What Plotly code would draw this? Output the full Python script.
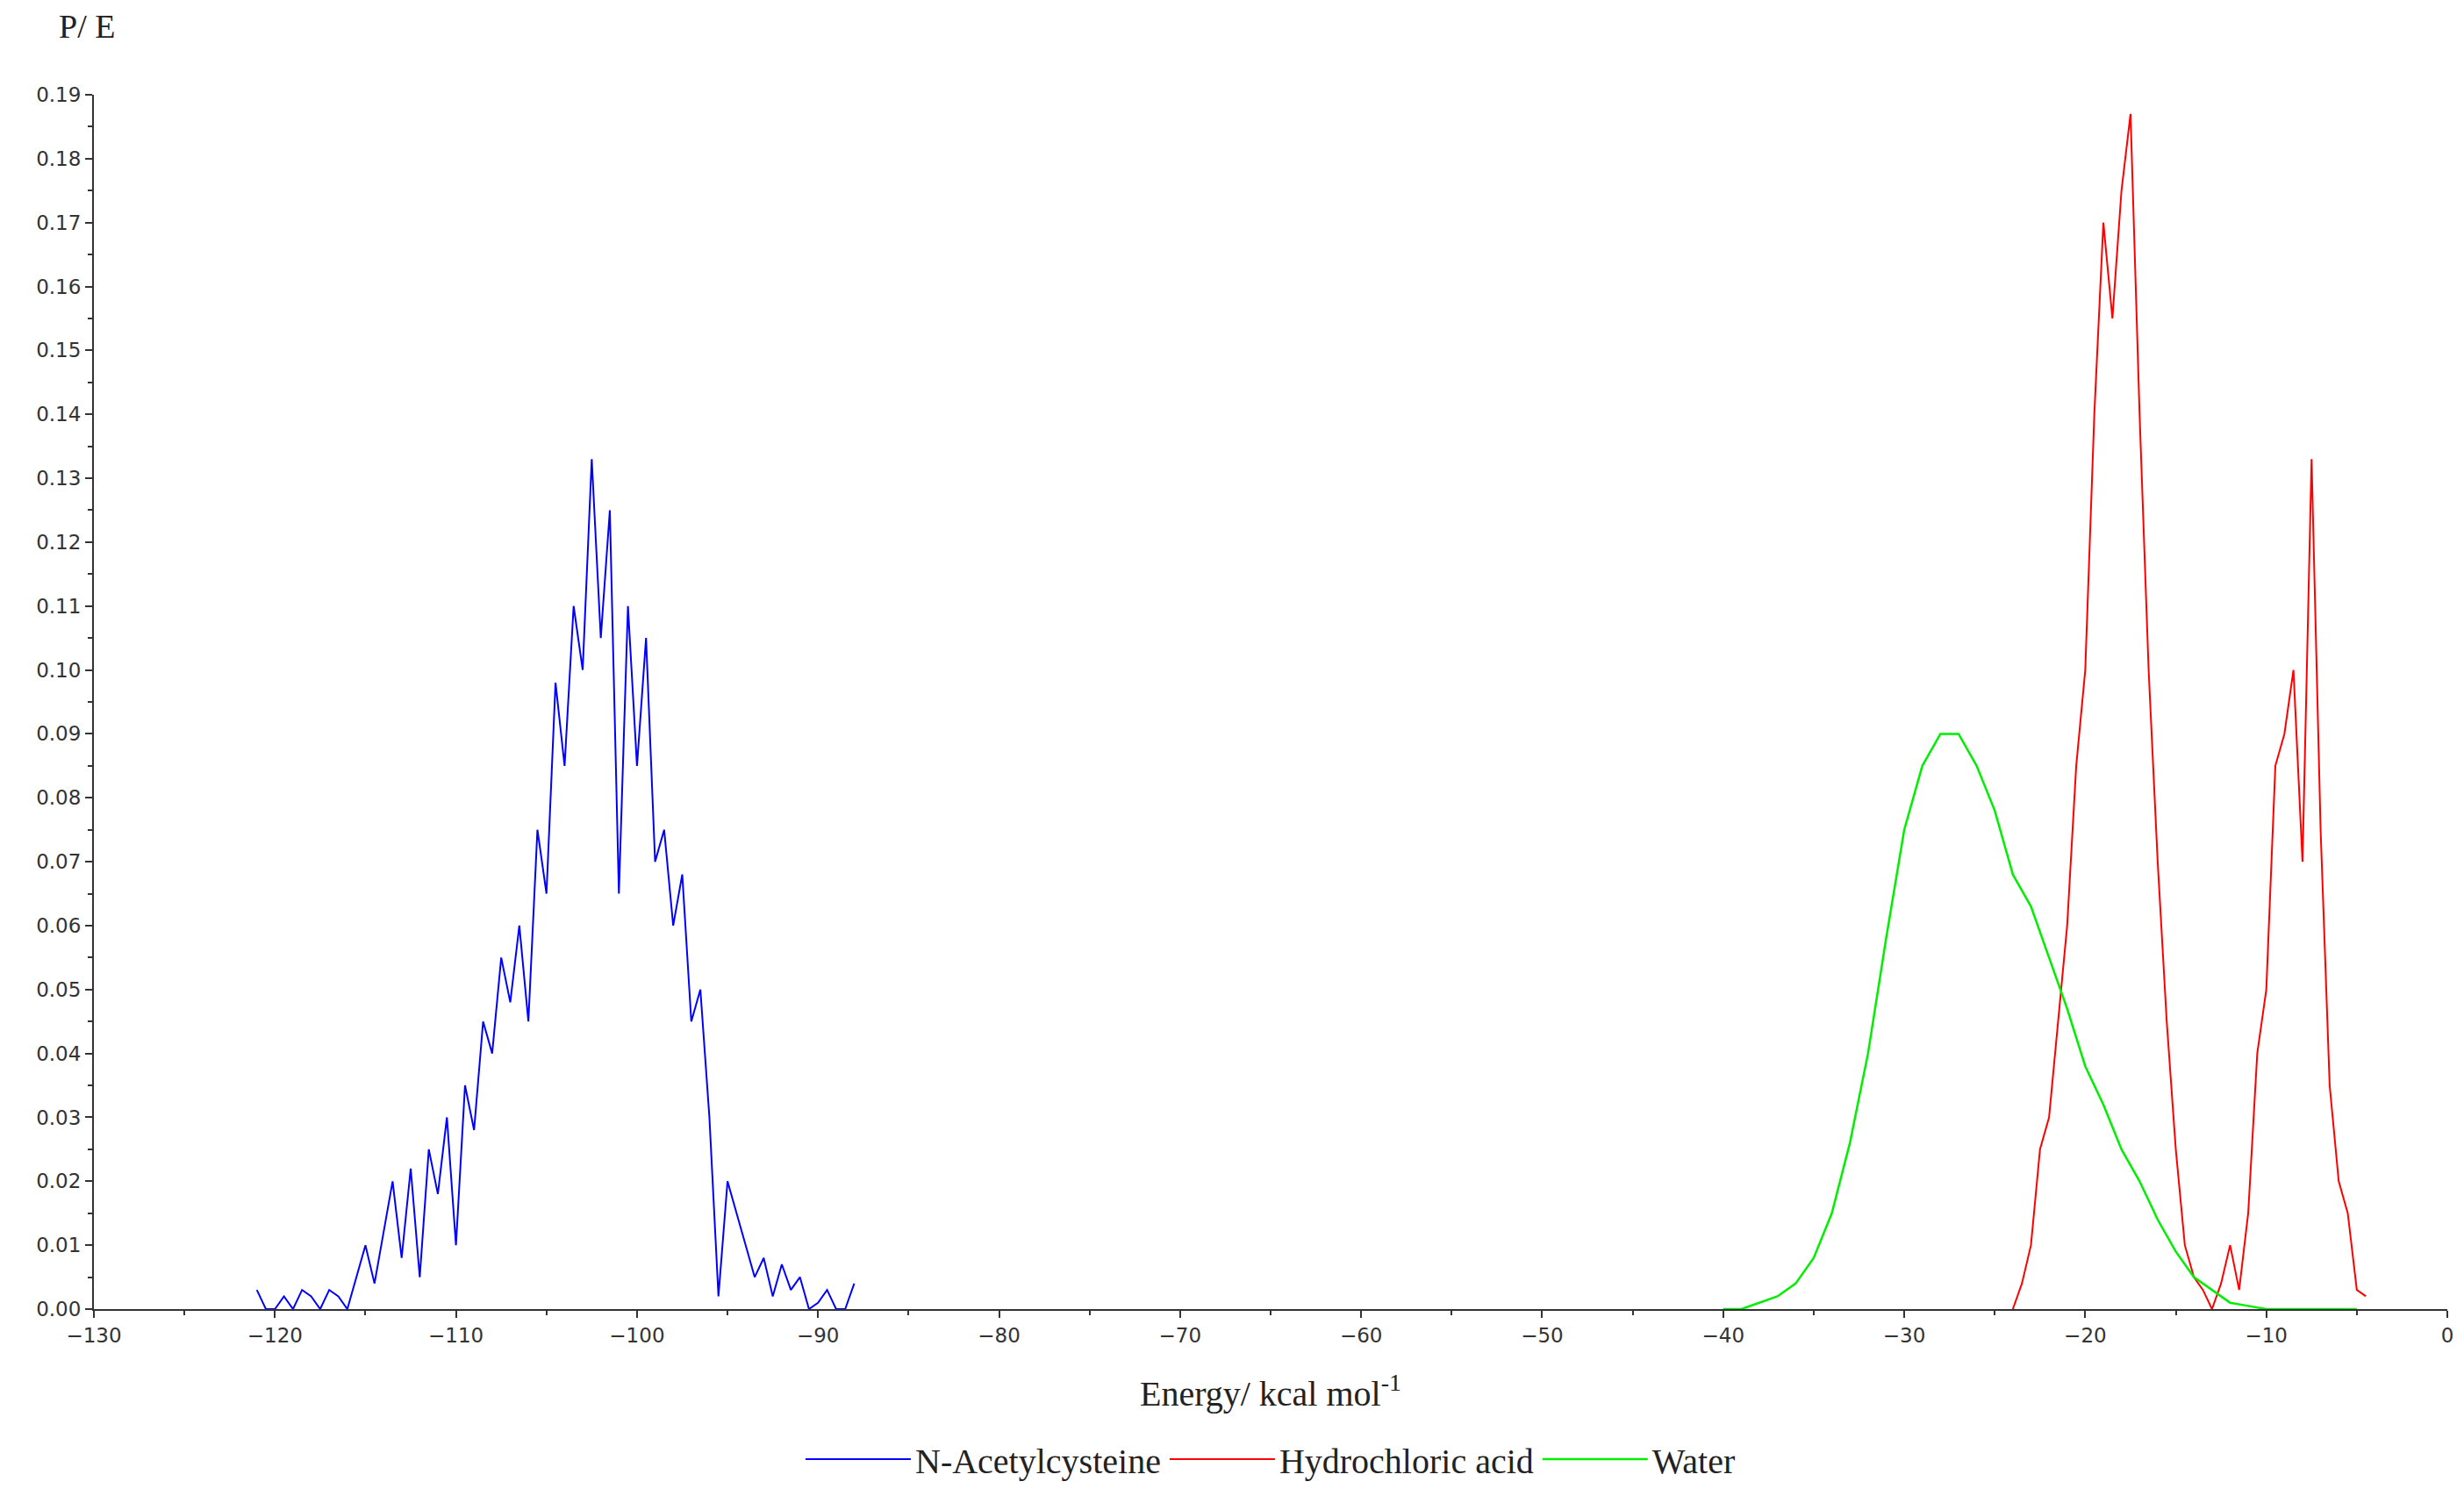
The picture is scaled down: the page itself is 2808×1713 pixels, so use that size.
import plotly.graph_objects as go

nac_x = [-121 + 0.5*i for i in range(67)]
nac_y = [0.003,0,0,0.002,0,0.003,0.002,0,0.003,0.002,0,0.005,0.01,0.004,0.012,0.02,0.008,0.022,0.005,0.025,
         0.018,0.03,0.01,0.035,0.028,0.045,0.04,0.055,0.048,0.06,0.045,0.075,0.065,0.098,0.085,0.11,0.1,0.133,
         0.105,0.125,0.065,0.11,0.085,0.105,0.07,0.075,0.06,0.068,0.045,0.05,0.03,0.002,0.02,0.015,0.01,0.005,
         0.008,0.002,0.007,0.003,0.005,0,0.001,0.003,0,0,0.004]
hcl_x = [-24 + 0.5*i for i in range(40)]
hcl_y = [0,0.004,0.01,0.025,0.03,0.045,0.06,0.085,0.1,0.14,0.17,0.155,0.175,0.187,0.14,0.1,0.07,0.045,0.025,0.01,
         0.005,0.003,0,0.004,0.01,0.003,0.015,0.04,0.05,0.085,0.09,0.1,0.07,0.133,0.075,0.035,0.02,0.015,0.003,0.002]
wat_x = list(range(-40, -4))
wat_y = [0,0,0.001,0.002,0.004,0.008,0.015,0.026,0.04,0.058,0.075,0.085,0.09,0.09,0.085,0.078,0.068,0.063,0.055,
         0.047,0.038,0.032,0.025,0.02,0.014,0.009,0.005,0.003,0.001,0.0005,0,0,0,0,0,0]

fig = go.Figure()
fig.add_trace(go.Scatter(x=nac_x, y=nac_y, mode="lines", name="N-Acetylcysteine", line=dict(color="#0000ff", width=2)))
fig.add_trace(go.Scatter(x=hcl_x, y=hcl_y, mode="lines", name="Hydrochloric acid", line=dict(color="#ff0000", width=2)))
fig.add_trace(go.Scatter(x=wat_x, y=wat_y, mode="lines", name="Water", line=dict(color="#00ee00", width=2.5)))

tickfont = dict(family="DejaVu Sans", size=23, color="#333")
fig.update_layout(
    width=2808, height=1713, plot_bgcolor="white", paper_bgcolor="white",
    margin=dict(l=99, r=27, t=100, b=229),
    legend=dict(orientation="h", x=0.5, xanchor="center", y=-0.1, yanchor="top", itemwidth=120,
                font=dict(family="Liberation Serif", size=40, color="#222")),
    annotations=[dict(text="P/ E", xref="paper", yref="paper", x=-0.003, y=1.04, xanchor="center", yanchor="bottom",
                      showarrow=False, font=dict(family="Liberation Serif", size=38, color="#222"))],
)
fig.update_xaxes(range=[-130, 0], dtick=10, showgrid=False, zeroline=False, showline=True, linecolor="#333",
                 linewidth=2, ticks="outside", ticklen=8, tickwidth=2, tickcolor="#333", tickfont=tickfont,
                 minor=dict(dtick=5, ticks="outside", ticklen=5, tickcolor="#333"),
                 title=dict(text="Energy/ kcal mol<sup>-1</sup>", font=dict(family="Liberation Serif", size=40, color="#222"), standoff=40))
fig.update_yaxes(range=[0, 0.19], dtick=0.01, tickformat=".2f", showgrid=False, zeroline=False, showline=True,
                 linecolor="#333", linewidth=2, ticks="outside", ticklen=8, tickwidth=2, tickcolor="#333",
                 tickfont=tickfont, minor=dict(dtick=0.005, ticks="outside", ticklen=5, tickcolor="#333"))
fig.write_html("out.html")
